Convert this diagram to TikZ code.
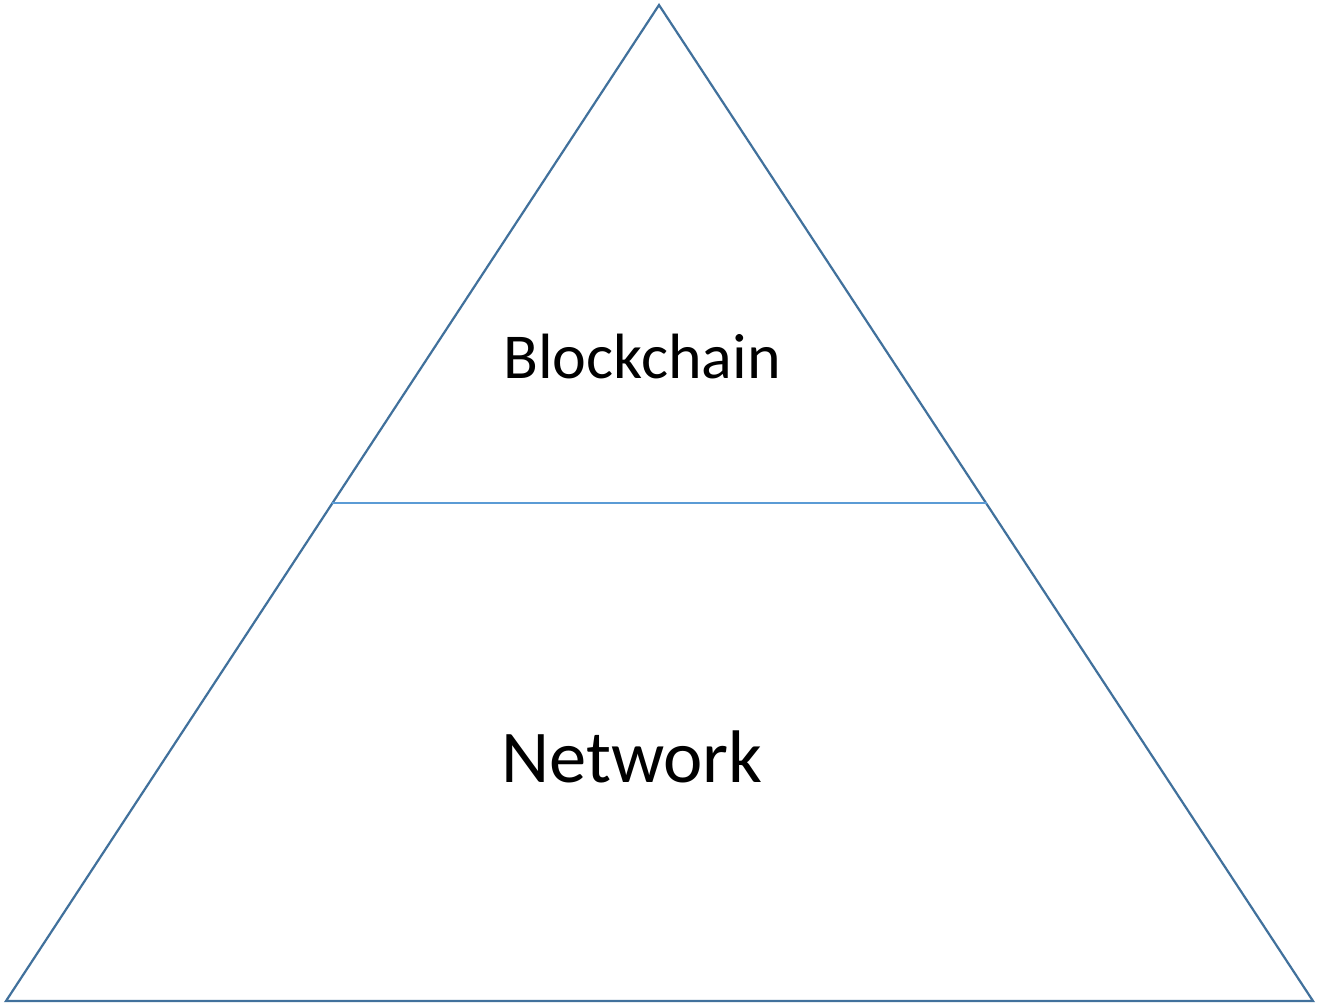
\documentclass[tikz,border=0pt]{standalone}
\usepackage{fontspec}
\setmainfont{Carlito}
\definecolor{edgeblue}{HTML}{41719C}
\definecolor{midblue}{HTML}{5B9BD5}
\begin{document}
\begin{tikzpicture}[x=1pt,y=-1pt,
  tri/.style={draw=edgeblue,line width=2.2pt,line join=miter},
  mid/.style={draw=midblue,line width=1.1pt},
  lbl/.style={inner sep=0pt,text=black}]
\useasboundingbox[fill=white] (0,0) rectangle (1320,1003);
\coordinate (apex) at (659,5);
\coordinate (bl) at (6,1001);
\coordinate (br) at (1313,1001);
\coordinate (ml) at (332,503);
\coordinate (mr) at (987,503);
\draw[tri] (apex) -- (br) -- (bl) -- cycle;
\draw[mid] (ml) -- (mr);
\node[lbl,font=\fontsize{64}{76}\selectfont] (block) at (642,357) {Blockchain};
\node[lbl,font=\fontsize{74.5}{88}\selectfont] (net) at (632,757) {Network};
\end{tikzpicture}
\end{document}
